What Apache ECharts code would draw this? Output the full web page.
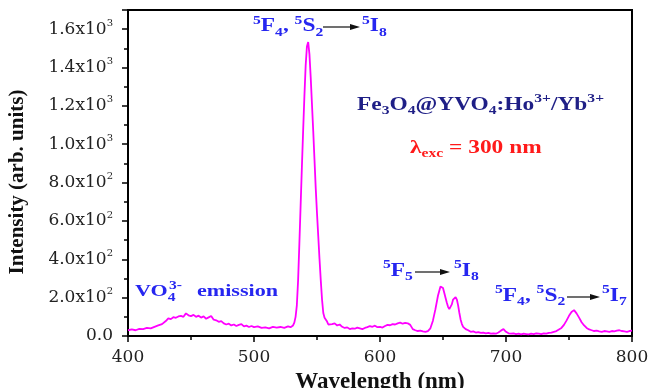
<!DOCTYPE html>
<html>
<head>
<meta charset="utf-8">
<script src="https://cdn.jsdelivr.net/npm/echarts@6/dist/echarts.min.js"></script>
<style>html,body{margin:0;padding:0;background:#fff}#c{width:651px;height:388px}</style>
</head>
<body>
<div id="c"></div>
<script>
// ---- data ----
const wavelengths = [
  400,403,406,409,412,415,418,421,424,427,430,432,434,436,438,440,442,444,446,447,448,450,452,454,456,458,460,462,464,466,468,470,472,474,476,478,480,482,484,486,488,490,492,494,496,498,500,503,506,509,512,515,518,521,524,527,529,
  531,532,533,534,535,536,537,538,539,540,541,542,543,544,545,546,547,548,549,550,551,552,553,554,555,556,557,558,559,560,
  562,564,566,568,570,572,574,576,578,580,582,584,586,588,590,592,594,596,598,600,602,604,606,608,610,612,614,616,618,620,622,624,626,628,630,632,634,636,638,
  640,642,644,646,648,649,650,651,652,653,654,655,656,657,658,659,660,661,662,663,664,665,666,668,670,
  672,674,676,678,680,682,684,686,688,690,692,694,696,698,700,702,704,706,708,710,712,714,716,718,720,722,724,726,728,730,732,734,736,738,
  740,742,744,746,748,750,752,754,755,756,758,760,762,764,766,768,770,772,774,776,778,780,782,784,786,788,790,792,794,796,798,800
];
const intensities = [
  30,34,30,37,36,42,40,48,55,62,78,92,88,98,95,102,105,100,118,126,108,104,110,100,106,96,102,90,97,104,85,82,74,78,66,60,64,55,60,52,58,62,50,54,47,52,46,50,42,45,40,48,44,47,42,50,46,
  55,70,100,160,290,480,680,880,1070,1250,1410,1510,1533,1470,1350,1210,1070,920,770,640,520,400,290,190,120,95,92,75,60,58,
  62,66,55,60,48,42,45,36,40,38,44,40,36,42,46,52,48,54,46,48,44,52,58,56,62,60,66,70,64,68,66,58,36,30,26,28,24,22,26,
  40,80,140,210,258,262,250,225,200,175,152,140,145,165,190,200,203,190,160,120,85,62,48,36,30,
  22,24,18,20,16,18,14,16,12,14,12,18,28,36,22,14,12,14,10,12,8,12,10,8,12,10,14,12,10,14,12,16,18,22,
  26,34,42,58,80,105,125,135,132,118,96,72,55,42,34,30,26,28,24,22,26,24,22,26,24,28,30,26,24,22,26,28
];
const xTickValues = [400, 500, 600, 700, 800];
const yTickValues = [0, 200, 400, 600, 800, 1000, 1200, 1400, 1600];
const yTickLabels = ['0.0', '2.0x10^2', '4.0x10^2', '6.0x10^2', '8.0x10^2', '1.0x10^3', '1.2x10^3', '1.4x10^3', '1.6x10^3'];

// ---- styles ----
const SERIF = '"Liberation Serif", "Times New Roman", serif';
const TICKFONT = '"DejaVu Serif", serif';
const BLUE = '#2626f0', NAVY = '#1f1f86', RED = '#ff1a1a';

function richFor(color, size, sub) {
  return {
    m:   { fontFamily: SERIF, fontWeight: 'bold', fontSize: size, lineHeight: 24, fill: color, verticalAlign: 'middle' },
    sup: { fontFamily: SERIF, fontWeight: 'bold', fontSize: sub, lineHeight: 12, fill: color, verticalAlign: 'top' },
    sub: { fontFamily: SERIF, fontWeight: 'bold', fontSize: sub, lineHeight: 12, fill: color, verticalAlign: 'bottom' }
  };
}
function ann(x, y, text, color, size, sub, sx) {
  return {
    type: 'text', x: x, y: y, scaleX: sx, z: 100,
    style: {
      text: text, fill: color, font: 'bold ' + size + 'px ' + SERIF,
      align: 'left', verticalAlign: 'top', textAlign: 'left', textVerticalAlign: 'top',
      rich: richFor(color, size, sub)
    }
  };
}
function arrow(x1, x2, y) {
  return [
    { type: 'line', z: 100, shape: { x1: x1, y1: y, x2: x2 - 6, y2: y }, style: { stroke: '#111', lineWidth: 1.2 } },
    { type: 'polygon', z: 100, shape: { points: [[x2 - 10, y - 3], [x2, y], [x2 - 10, y + 3]] }, style: { fill: '#111' } }
  ];
}

const chart = echarts.init(document.getElementById('c'));
const option = {
  backgroundColor: '#fff',
  animation: false,
  grid: {
    left: 128, right: 19, top: 10, bottom: 52, outerBoundsMode: 'none', containLabel: false,
    show: true, borderColor: '#000', borderWidth: 2, backgroundColor: 'transparent'
  },
  xAxis: {
    type: 'value', min: 400, max: 800, interval: 100,
    name: 'Wavelength (nm)', nameLocation: 'middle', nameGap: 29,
    nameTextStyle: { fontFamily: SERIF, fontWeight: 'bold', fontSize: 23, color: '#111' },
    axisLine: { show: true, lineStyle: { color: '#000', width: 2 } },
    axisTick: { show: true, length: 6, lineStyle: { color: '#000', width: 1.5 } },
    minorTick: { show: true, splitNumber: 2, length: 4, lineStyle: { color: '#000', width: 1.5 } },
    splitLine: { show: false },
    axisLabel: {
      fontFamily: TICKFONT, fontSize: 17, color: '#222', margin: 13,
      formatter: function (v) { return xTickValues.indexOf(v) >= 0 ? String(v) : ''; }
    }
  },
  yAxis: {
    type: 'value', min: 0, max: 1700, interval: 200,
    name: 'Intensity (arb. units)', nameLocation: 'middle', nameGap: 100,
    nameTextStyle: { fontFamily: SERIF, fontWeight: 'bold', fontSize: 21, color: '#111', padding: [0, 18, 0, 0] },
    axisLine: { show: true, lineStyle: { color: '#000', width: 2 } },
    axisTick: { show: true, length: 6, lineStyle: { color: '#000', width: 1.5 } },
    minorTick: { show: true, splitNumber: 2, length: 4, lineStyle: { color: '#000', width: 1.5 } },
    splitLine: { show: false },
    axisLabel: {
      fontFamily: TICKFONT, fontSize: 17, color: '#222', margin: 15, showMaxLabel: false,
      formatter: function (v) {
        const i = yTickValues.indexOf(v);
        if (i < 0) return '';
        return yTickLabels[i].replace(/\^(\d+)/, '{s|$1}').replace(/^([^{]+)/, '{n|$1}');
      },
      rich: {
        n: { fontFamily: TICKFONT, fontSize: 17, color: '#222', lineHeight: 22, verticalAlign: 'middle' },
        s: { fontFamily: TICKFONT, fontSize: 10, color: '#222', lineHeight: 11, verticalAlign: 'top' }
      }
    }
  },
  series: [{
    type: 'line',
    data: wavelengths.map(function (w, i) { return [w, intensities[i]]; }),
    showSymbol: false, symbol: 'none', smooth: false,
    lineStyle: { color: '#ff00ff', width: 1.8 },
    itemStyle: { color: '#ff00ff' }
  }],
  graphic: [].concat(
    [ann(253, 14.5, '{sup|5}{m|F}{sub|4}{m|, }{sup|5}{m|S}{sub|2}', BLUE, 18, 12, 1.3)],
    arrow(323, 360, 27),
    [ann(362, 14.5, '{sup|5}{m|I}{sub|8}', BLUE, 18, 12, 1.3)],

    [ann(383, 259, '{sup|5}{m|F}{sub|5}', BLUE, 18, 12, 1.3)],
    arrow(415, 450, 272),
    [ann(454, 259, '{sup|5}{m|I}{sub|8}', BLUE, 18, 12, 1.3)],

    [ann(495, 284, '{sup|5}{m|F}{sub|4}{m|, }{sup|5}{m|S}{sub|2}', BLUE, 18, 12, 1.3)],
    arrow(567, 600, 297),
    [ann(602, 284, '{sup|5}{m|I}{sub|7}', BLUE, 18, 12, 1.3)],

    [ann(135, 280, '{m|VO}{sub|4}', BLUE, 17, 12, 1.3)],
    [ann(169, 280, '{sup|3-}', BLUE, 17, 12, 1.3)],
    [ann(197, 280, '{m|emission}', BLUE, 17, 12, 1.3)],

    [ann(357, 93, '{m|Fe}{sub|3}{m|O}{sub|4}{m|@YVO}{sub|4}{m|:Ho}{sup|3+}{m|/Yb}{sup|3+}', NAVY, 18, 12, 1.3)],
    [ann(410, 136, '{m|λ}{sub|exc}{m| = 300 nm}', RED, 18, 12, 1.3)]
  )
};
chart.setOption(option);
</script>
</body>
</html>
